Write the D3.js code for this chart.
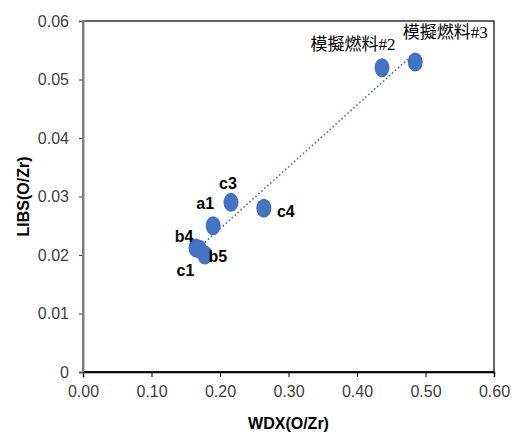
<!DOCTYPE html>
<html><head><meta charset="utf-8">
<script src="https://cdn.jsdelivr.net/npm/d3@7"></script>
<style>body{margin:0;background:#fff;} svg{display:block;}</style>
</head><body>
<svg id="chart" width="518" height="432"></svg>
<script>
const labels = ["模擬燃料#3","模擬燃料#2","c3","c4","a1","b4","c1","b5"];
const wdx  = [0.485, 0.4365, 0.216, 0.264, 0.190, 0.165, 0.170, 0.178];
const libs = [0.0530, 0.0520, 0.0290, 0.0280, 0.0250, 0.0212, 0.0210, 0.0200];
const labelDx = [30, -29, -3, 22, -8, -12, -14, 13];
const labelDy = [-29, -23, -19, 3, -22, -11, 21, 1];
const xTicks = [0, 0.1, 0.2, 0.3, 0.4, 0.5, 0.6];
const yTicks = [0, 0.01, 0.02, 0.03, 0.04, 0.05, 0.06];

const svg = d3.select("#chart");
const m = {l:83, r:24, t:21, b:60};
const W = 518, H = 432;
const x = d3.scaleLinear().domain([0,0.6]).range([m.l, W-m.r]);
const y = d3.scaleLinear().domain([0,0.06]).range([H-m.b, m.t]);

// plot border
svg.append("rect").attr("x", x(0)).attr("y", y(0.06)).attr("width", x(0.6)-x(0)).attr("height", y(0)-y(0.06))
  .attr("fill","none").attr("stroke","#000").attr("stroke-width",1.2);

const font = "Arial, 'Liberation Sans', sans-serif";
const xa = svg.append("g").attr("transform",`translate(0,${y(0)})`)
  .call(d3.axisBottom(x).tickValues(xTicks).tickFormat(d3.format(".2f")).tickSize(5).tickPadding(9));
xa.select(".domain").attr("stroke","#000").attr("stroke-width",1.5);
xa.selectAll(".tick line").attr("stroke","#000");
xa.selectAll("text").attr("font-family",font).attr("font-size",16).attr("fill","#404040");

const ya = svg.append("g").attr("transform",`translate(${x(0)},0)`)
  .call(d3.axisLeft(y).tickValues(yTicks).tickFormat(d => d===0 ? "0" : d3.format(".2f")(d)).tickSize(4).tickPadding(10));
ya.select(".domain").attr("stroke","#808080").attr("stroke-width",2);
ya.selectAll(".tick line").attr("stroke","#404040");
ya.selectAll("text").attr("font-family",font).attr("font-size",16).attr("fill","#404040");

svg.append("line").attr("x1",x(0)).attr("x2",x(0.6)).attr("y1",y(0)).attr("y2",y(0)).attr("stroke","#000").attr("stroke-width",1.5);
svg.append("line").attr("x1",x(0)).attr("x2",x(0)).attr("y1",y(0)).attr("y2",y(0.06)).attr("stroke","#808080").attr("stroke-width",2);

// linear trendline (least squares)
const n = wdx.length;
const mx = d3.mean(wdx), my = d3.mean(libs);
let sxy=0, sxx=0;
for (let i=0;i<n;i++){ sxy += (wdx[i]-mx)*(libs[i]-my); sxx += (wdx[i]-mx)**2; }
const slope = sxy/sxx, icpt = my - slope*mx;
const [x0,x1] = d3.extent(wdx);

svg.append("g").selectAll("ellipse").data(wdx).join("ellipse")
  .attr("cx",(d)=>x(d)).attr("cy",(d,i)=>y(libs[i])).attr("rx",7.5).attr("ry",9.5)
  .attr("fill","#4472C4");

svg.append("line").attr("x1",x(x0)).attr("y1",y(slope*x0+icpt)).attr("x2",x(x1)).attr("y2",y(slope*x1+icpt))
  .attr("stroke","#4472C4").attr("stroke-width",1.6).attr("stroke-dasharray","1.6,2.4");

svg.append("g").selectAll("text").data(labels).join("text")
  .attr("x",(d,i)=>x(wdx[i])+labelDx[i]).attr("y",(d,i)=>y(libs[i])+labelDy[i])
  .attr("text-anchor","middle").attr("dominant-baseline","central")
  .attr("font-family",(d,i)=> i<2 ? "'Liberation Serif','Noto Sans CJK SC',serif" : font)
  .attr("font-weight",(d,i)=> i<2 ? "normal" : "bold")
  .attr("font-size",(d,i)=> i<2 ? 17 : 16)
  .attr("fill","#000").text(d=>d);

svg.append("text").attr("x",(x(0)+x(0.6))/2).attr("y",429).attr("text-anchor","middle")
  .attr("font-family",font).attr("font-weight","bold").attr("font-size",16).text("WDX(O/Zr)");
svg.append("text").attr("transform",`translate(29,${(y(0)+y(0.06))/2}) rotate(-90)`).attr("text-anchor","middle")
  .attr("font-family",font).attr("font-weight","bold").attr("font-size",16).text("LIBS(O/Zr)");
</script>
</body></html>
